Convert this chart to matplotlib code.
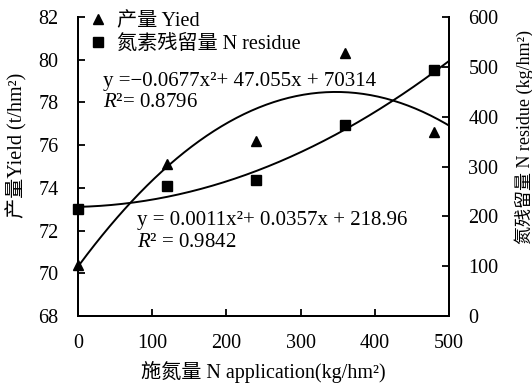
import numpy as np
import matplotlib
matplotlib.use("Agg")
import matplotlib.pyplot as plt
from matplotlib.lines import Line2D

plt.rcParams['font.family'] = ['Liberation Serif', 'Noto Sans CJK SC']
plt.rcParams['mathtext.fontset'] = 'custom'
plt.rcParams['mathtext.rm'] = 'Liberation Serif'
plt.rcParams['mathtext.it'] = 'Liberation Serif:italic'

# data
n_rate = [0, 120, 240, 360, 480]
yield_t = [70.4, 75.1, 76.2, 80.3, 76.6]
residue = [215, 261, 273, 383, 494]

# trend line coefficients as printed (yield one rescaled to t/hm2)
yield_coef = [-0.0677e-3, 47.055e-3, 70.314]
residue_coef = [0.0011, 0.0357, 218.96]

fig = plt.figure(figsize=(5.32, 3.85), dpi=100)
ax = fig.add_axes([78 / 532, 1 - 316 / 385, 371 / 532, 299 / 385])
ax2 = ax.twinx()

xs = np.linspace(0, 500, 200)
ax.plot(xs, np.polyval(yield_coef, xs), color='black', lw=1.4)
ax.plot(n_rate, yield_t, '^', color='black', ms=7, clip_on=False, zorder=5)
ax2.plot(xs, np.polyval(residue_coef, xs), color='black', lw=1.4)
ax2.plot(n_rate, residue, 's', color='black', ms=6.5, clip_on=False, zorder=5)

ax.set_xlim(0, 500)
ax.set_ylim(68, 82)
ax2.set_ylim(0, 600)
ax.set_xticks([0, 100, 200, 300, 400, 500])
ax.set_yticks(range(68, 83, 2))
ax2.set_yticks(range(0, 601, 100))

for a in (ax, ax2):
    a.tick_params(direction='in', labelsize=14.5, width=1.3, length=5)
    for s in a.spines.values():
        s.set_linewidth(1.4)
    a.spines['top'].set_visible(False)
ax.tick_params(axis='x', pad=13)
ax.tick_params(axis='y', pad=14)
ax2.tick_params(axis='y', pad=14)

ax.set_xlabel('施氮量 N application(kg/hm²)', fontsize=14.5)
ax.xaxis.set_label_coords(0.5, -0.15)
ax.set_ylabel('产量Yield (t/hm²)', fontsize=14.5)
ax.yaxis.set_label_coords(-0.137, 0.57)
ax2.set_ylabel('氮残留量 N residue (kg/hm²)', fontsize=13)
ax2.yaxis.set_label_coords(1.175, 0.6)

handles = [Line2D([], [], marker='^', color='black', ls='none', ms=7),
           Line2D([], [], marker='s', color='black', ls='none', ms=6.5)]
ax.legend(handles, ['产量 Yied', '氮素残留量 N residue'], loc='upper left',
          frameon=False, fontsize=14.5, handletextpad=0.45, borderaxespad=0.1,
          labelspacing=0.2, handlelength=1.0, bbox_to_anchor=(0.0, 1.05))

ax.text(0.067, 0.785, 'y =−0.0677x²+ 47.055x + 70314', transform=ax.transAxes,
        fontsize=15, va='center')
ax.text(0.067, 0.715, '$R$²= 0.8796', transform=ax.transAxes, fontsize=15,
        va='center')
ax.text(0.16, 0.32, 'y = 0.0011x²+ 0.0357x + 218.96', transform=ax.transAxes,
        fontsize=15, va='center')
ax.text(0.16, 0.245, '$R$² = 0.9842', transform=ax.transAxes, fontsize=15,
        va='center')

fig.savefig('out.png', dpi=100)
